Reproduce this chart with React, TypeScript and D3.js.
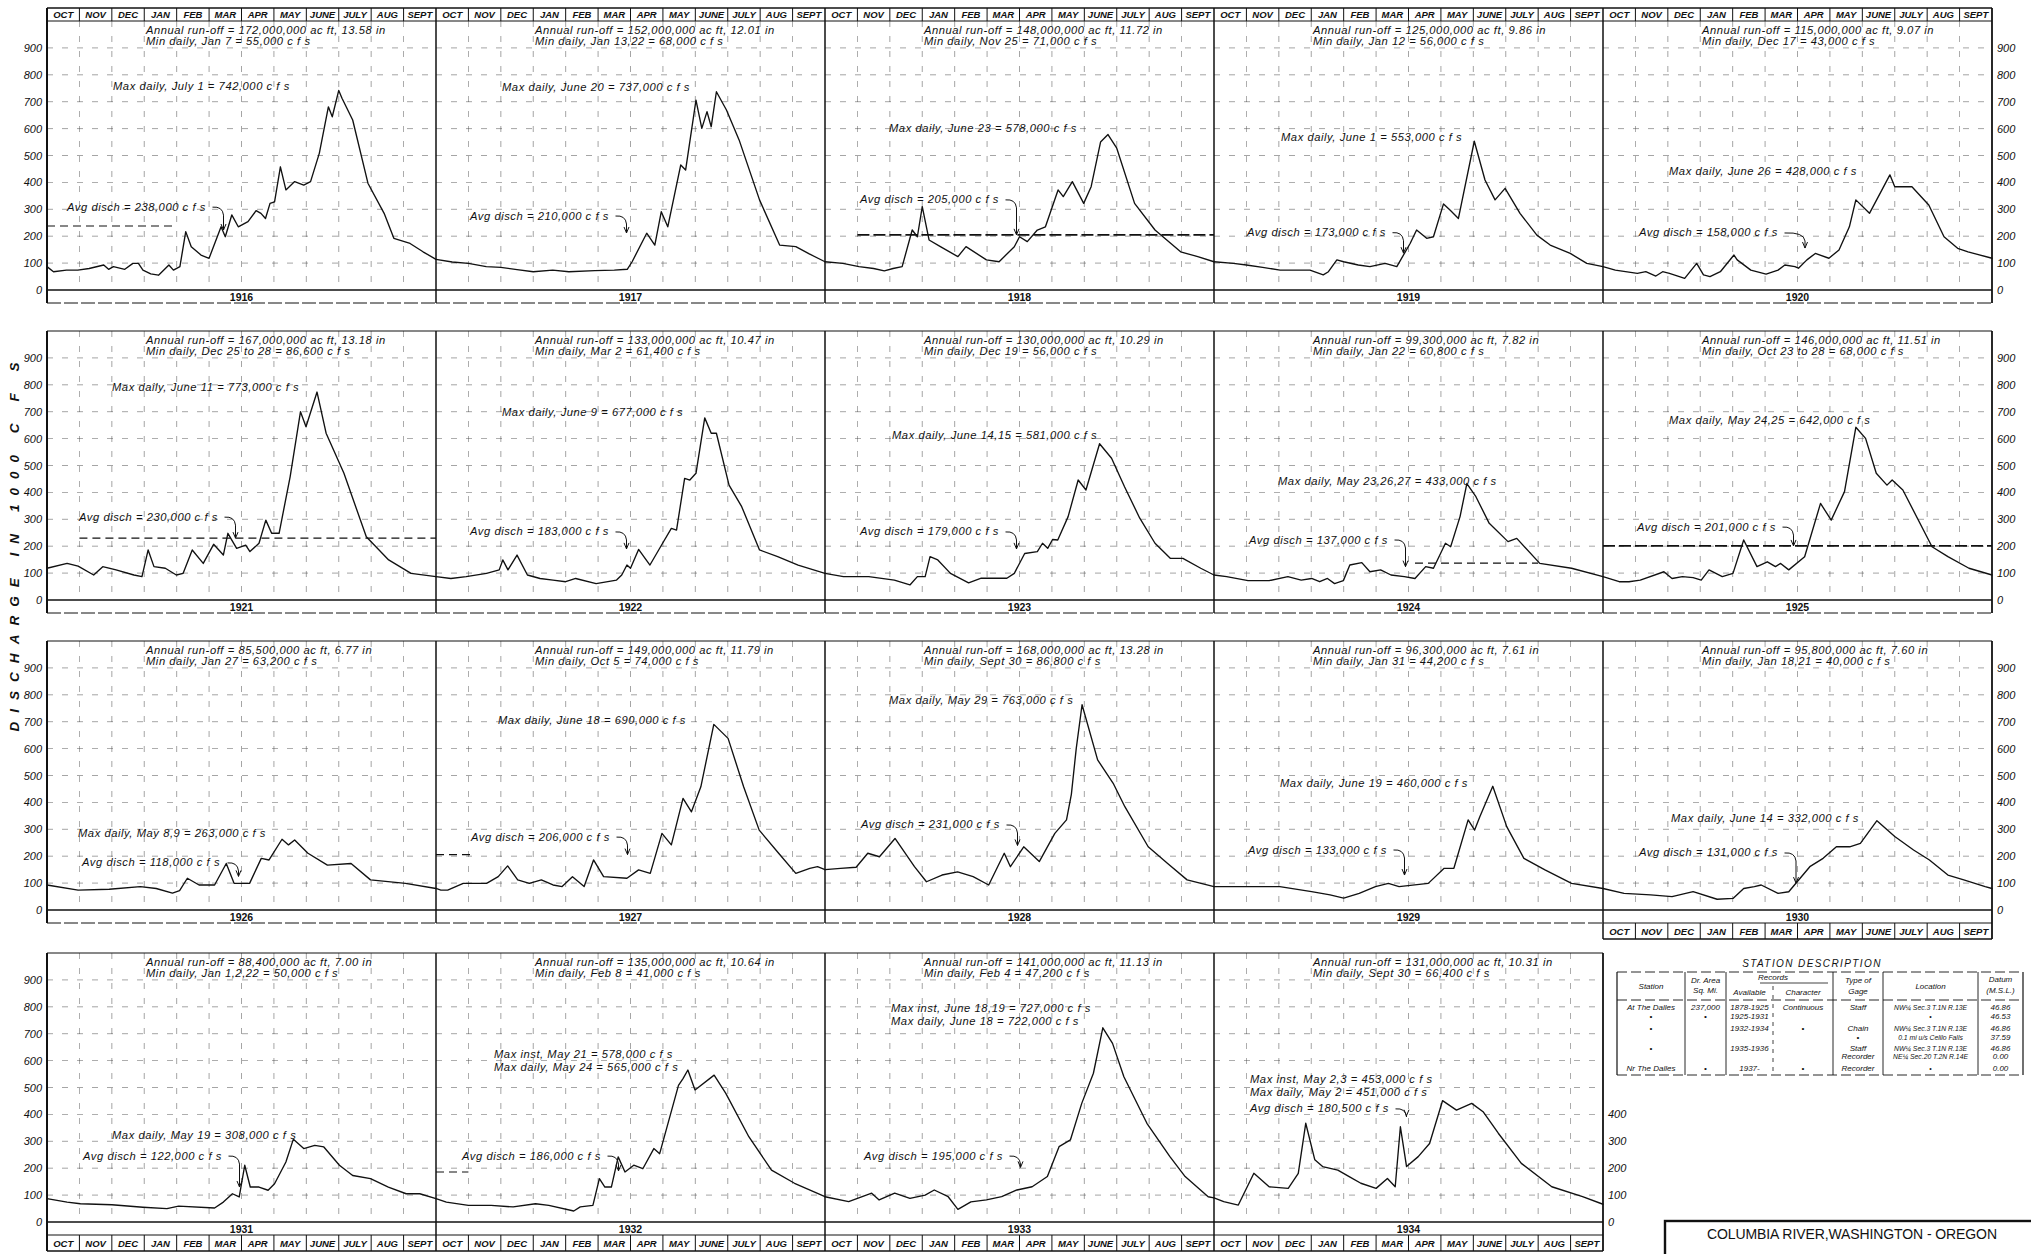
import React from "react";
import * as d3 from "d3";

const WIDTH = 2031;
const HEIGHT = 1254;

// ---- data -----------------------------------------------------------------

const years = [1916, 1917, 1918, 1919, 1920, 1921, 1922, 1923, 1924, 1925,
  1926, 1927, 1928, 1929, 1930, 1931, 1932, 1933, 1934];

const monthNames = ["OCT", "NOV", "DEC", "JAN", "FEB", "MAR", "APR", "MAY",
  "JUNE", "JULY", "AUG", "SEPT"];

const axisTicks = [0, 100, 200, 300, 400, 500, 600, 700, 800, 900];
const shortTicks = [0, 100, 200, 300, 400];

// Daily discharge, water year Oct 1 - Sept 30: [months since Oct 1, 1000 cfs]
const q1916 = [[0, 87], [0.2, 68], [0.6, 74], [0.95, 74], [1.3, 80], [1.75, 93], [1.9, 77], [2.05, 87], [2.4, 77], [2.65, 99], [2.82, 99], [2.96, 74], [3.2, 60], [3.44, 55], [3.76, 93], [3.9, 74], [4.1, 87], [4.28, 217], [4.45, 161], [4.75, 130], [5.0, 118], [5.37, 235], [5.5, 198], [5.7, 279], [5.9, 235], [6.2, 254], [6.45, 295], [6.6, 285], [6.74, 266], [6.88, 322], [7.02, 328], [7.2, 458], [7.37, 372], [7.64, 403], [7.92, 390], [8.13, 403], [8.4, 508], [8.68, 681], [8.8, 644], [9.0, 742], [9.1, 713], [9.43, 632], [9.9, 397], [10.4, 285], [10.7, 192], [11.2, 173], [11.6, 142], [12, 114]];
const q1917 = [[0, 114], [0.5, 104], [1.0, 99], [1.55, 87], [2.0, 84], [2.5, 76], [3.0, 68], [3.6, 74], [4.1, 68], [4.9, 72], [5.5, 74], [5.9, 77], [6.05, 105], [6.5, 211], [6.75, 167], [6.95, 291], [7.15, 235], [7.55, 465], [7.7, 446], [8.02, 706], [8.2, 601], [8.36, 663], [8.49, 607], [8.65, 737], [8.96, 669], [9.35, 558], [9.98, 335], [10.6, 167], [11.1, 161], [11.5, 135], [12, 105]];
const q1918 = [[0, 105], [0.55, 99], [1.05, 87], [1.5, 80], [1.83, 71], [2.1, 80], [2.38, 87], [2.69, 223], [2.85, 198], [3.0, 310], [3.21, 186], [3.56, 161], [4.1, 124], [4.35, 161], [4.98, 112], [5.37, 105], [5.84, 161], [6.0, 198], [6.24, 180], [6.55, 223], [6.8, 235], [7.19, 372], [7.35, 347], [7.63, 403], [7.98, 322], [8.21, 384], [8.5, 550], [8.73, 578], [9.0, 527], [9.55, 322], [10.18, 223], [10.97, 142], [11.5, 124], [12, 105]];
const q1919 = [[0, 105], [0.6, 99], [1.0, 93], [1.5, 84], [2.04, 74], [2.96, 74], [3.37, 56], [3.53, 68], [3.79, 112], [4.0, 105], [4.45, 93], [4.81, 87], [5.28, 99], [5.64, 87], [6.05, 173], [6.25, 223], [6.56, 192], [6.77, 198], [7.08, 320], [7.28, 297], [7.54, 266], [8.03, 553], [8.36, 409], [8.67, 335], [8.98, 378], [9.44, 285], [9.96, 204], [10.37, 167], [10.99, 136], [11.5, 99], [12, 87]];
const q1920 = [[0, 87], [0.38, 74], [1.06, 62], [1.32, 68], [1.63, 52], [1.84, 68], [2.05, 62], [2.52, 43], [2.89, 99], [3.1, 56], [3.3, 50], [3.62, 68], [4.04, 130], [4.14, 112], [4.56, 74], [5.03, 59], [5.4, 74], [5.61, 93], [5.92, 87], [6.03, 81], [6.29, 112], [6.55, 136], [6.97, 118], [7.28, 149], [7.6, 235], [7.8, 335], [8.22, 285], [8.85, 428], [9.0, 384], [9.53, 384], [10.05, 316], [10.52, 198], [10.94, 155], [11.26, 142], [12, 118]];
const q1921 = [[0, 118], [0.62, 136], [0.96, 126], [1.44, 93], [1.72, 124], [2.13, 112], [2.68, 93], [2.93, 87], [3.12, 186], [3.3, 124], [3.65, 118], [3.99, 93], [4.2, 99], [4.48, 186], [4.82, 136], [5.14, 207], [5.44, 167], [5.58, 248], [5.85, 192], [6.13, 204], [6.26, 180], [6.54, 211], [6.75, 297], [6.93, 248], [7.16, 248], [7.5, 458], [7.82, 700], [7.99, 644], [8.33, 773], [8.61, 620], [9.16, 471], [9.85, 235], [10.54, 149], [11.23, 99], [12, 87]];
const q1922 = [[0, 87], [0.46, 80], [0.93, 87], [1.56, 99], [1.95, 112], [2.06, 149], [2.22, 112], [2.5, 167], [2.82, 93], [3.21, 80], [3.61, 74], [4.0, 68], [4.31, 80], [4.94, 61], [5.57, 74], [5.73, 93], [5.89, 130], [6.0, 118], [6.25, 188], [6.6, 130], [6.99, 211], [7.26, 266], [7.42, 260], [7.67, 452], [7.83, 446], [8.02, 471], [8.29, 677], [8.49, 620], [8.65, 620], [9.04, 427], [9.43, 347], [9.98, 186], [10.54, 161], [11.17, 130], [12, 99]];
const q1923 = [[0, 99], [0.57, 87], [1.35, 87], [2.14, 74], [2.62, 56], [2.85, 87], [3.09, 87], [3.24, 161], [3.48, 149], [3.87, 99], [4.43, 64], [4.82, 81], [5.61, 81], [5.84, 99], [6.16, 173], [6.55, 180], [6.71, 211], [6.87, 192], [7.02, 225], [7.18, 223], [7.5, 310], [7.81, 446], [8.05, 409], [8.47, 581], [8.84, 527], [9.24, 421], [9.71, 304], [10.18, 211], [10.65, 155], [11.04, 155], [11.59, 118], [12, 93]];
const q1924 = [[0, 93], [0.39, 87], [1.05, 72], [1.7, 72], [2.28, 87], [2.69, 74], [3.01, 80], [3.26, 68], [3.5, 80], [3.72, 61], [3.99, 72], [4.19, 130], [4.56, 139], [4.81, 105], [5.14, 112], [5.46, 93], [5.87, 87], [6.2, 80], [6.53, 124], [6.77, 118], [7.14, 211], [7.3, 198], [7.59, 310], [7.8, 433], [8.08, 384], [8.49, 285], [9.07, 217], [9.34, 229], [10.05, 136], [11.03, 118], [12, 87]];
const q1925 = [[0, 87], [0.5, 68], [0.8, 68], [1.15, 74], [1.88, 105], [2.13, 80], [2.45, 87], [2.78, 83], [3.03, 74], [3.27, 112], [3.68, 87], [4.01, 99], [4.34, 223], [4.75, 124], [5.07, 142], [5.32, 124], [5.48, 136], [5.73, 112], [6.22, 161], [6.71, 359], [7.04, 297], [7.45, 403], [7.8, 642], [8.1, 601], [8.43, 471], [8.76, 427], [8.92, 446], [9.25, 409], [10.15, 198], [10.64, 161], [11.29, 118], [12, 93]];
const q1926 = [[0, 93], [0.96, 74], [1.92, 77], [2.88, 87], [3.37, 80], [3.87, 63], [4.09, 72], [4.33, 118], [4.69, 93], [5.17, 93], [5.53, 173], [5.77, 99], [6.25, 99], [6.61, 192], [6.85, 186], [7.25, 263], [7.45, 242], [7.64, 260], [8.05, 211], [8.65, 167], [9.38, 173], [9.98, 112], [11.06, 99], [12, 80]];
const q1927 = [[0, 80], [0.15, 74], [0.36, 74], [0.84, 99], [1.56, 99], [1.92, 124], [2.21, 164], [2.52, 112], [2.88, 99], [3.25, 112], [3.61, 93], [3.89, 87], [4.21, 124], [4.57, 87], [4.86, 186], [5.17, 124], [5.89, 118], [6.25, 149], [6.61, 136], [6.97, 285], [7.26, 242], [7.62, 415], [7.88, 365], [8.17, 458], [8.57, 690], [9.01, 638], [9.49, 458], [9.97, 297], [10.57, 211], [11.1, 136], [11.53, 155], [11.77, 161], [12, 150]];
const q1928 = [[0, 150], [0.48, 155], [0.96, 159], [1.32, 211], [1.68, 198], [2.16, 266], [2.76, 161], [3.13, 105], [3.61, 130], [4.09, 142], [4.57, 124], [5.05, 93], [5.53, 211], [5.72, 161], [6.13, 235], [6.61, 180], [7.09, 285], [7.45, 335], [7.6, 430], [7.75, 600], [7.93, 763], [8.41, 558], [8.89, 471], [9.25, 384], [9.97, 235], [10.57, 173], [11.17, 112], [12, 87]];
const q1929 = [[0, 87], [1.05, 87], [2.03, 87], [3.01, 68], [3.58, 56], [4.0, 44], [4.48, 62], [4.98, 87], [5.38, 99], [5.71, 87], [6.61, 99], [7.1, 155], [7.4, 155], [7.84, 335], [8.04, 297], [8.2, 347], [8.6, 460], [9.03, 310], [9.56, 192], [10.21, 149], [11.03, 99], [12, 80]];
const q1930 = [[0, 80], [0.65, 62], [1.47, 56], [2.13, 50], [2.78, 68], [3.52, 40], [4.01, 43], [4.34, 80], [4.67, 87], [4.88, 93], [5.4, 62], [5.73, 68], [6.38, 161], [6.79, 192], [7.2, 235], [7.61, 235], [7.94, 248], [8.45, 332], [9.0, 273], [9.58, 223], [10.07, 186], [10.64, 130], [11.13, 112], [11.79, 87], [12, 80]];
const q1931 = [[0, 87], [0.62, 74], [1.03, 68], [2.0, 64], [2.96, 55], [3.7, 50], [4.06, 59], [5.17, 52], [5.44, 74], [5.72, 105], [5.93, 93], [6.1, 211], [6.27, 130], [6.54, 130], [6.82, 118], [7.02, 142], [7.37, 223], [7.6, 308], [7.92, 273], [8.26, 285], [8.54, 279], [9.02, 211], [9.43, 173], [9.98, 161], [10.53, 130], [11.08, 105], [11.5, 105], [12, 87]];
const q1932 = [[0, 87], [0.32, 74], [1.0, 62], [1.7, 62], [2.38, 56], [3.07, 68], [3.48, 62], [4.25, 41], [4.45, 56], [4.84, 62], [5.04, 161], [5.21, 130], [5.41, 130], [5.62, 242], [5.83, 186], [6.1, 211], [6.38, 198], [6.72, 273], [6.9, 254], [7.48, 508], [7.62, 533], [7.77, 565], [7.99, 491], [8.58, 546], [8.94, 478], [9.65, 317], [10.35, 193], [11.06, 144], [12, 94]];
const q1933 = [[0, 94], [0.73, 76], [1.44, 107], [1.67, 82], [2.15, 107], [2.62, 88], [3.09, 100], [3.37, 119], [3.8, 94], [4.1, 47], [4.5, 75], [4.98, 82], [5.45, 94], [5.92, 119], [6.39, 131], [6.86, 169], [7.22, 280], [7.57, 305], [7.92, 441], [8.28, 553], [8.57, 722], [8.87, 664], [9.22, 540], [9.93, 367], [10.64, 243], [11.11, 169], [11.82, 94], [12, 90]];
const q1934 = [[0, 90], [0.3, 76], [0.75, 63], [1.23, 181], [1.7, 131], [2.29, 125], [2.6, 181], [2.83, 367], [3.11, 231], [3.35, 206], [3.82, 193], [4.17, 169], [4.53, 144], [5.0, 125], [5.35, 162], [5.59, 131], [5.75, 354], [5.94, 206], [6.3, 243], [6.65, 292], [7.05, 451], [7.48, 416], [7.95, 441], [8.3, 410], [8.77, 330], [9.48, 218], [10.42, 131], [11.37, 94], [12, 66]];

const flows = [q1916, q1917, q1918, q1919, q1920, q1921, q1922, q1923, q1924,
  q1925, q1926, q1927, q1928, q1929, q1930, q1931, q1932, q1933, q1934];

// Mean discharge for the year, 1000 cfs
const avgFlow = [238, 210, 205, 173, 158, 230, 183, 179, 137, 201, 118, 206,
  231, 133, 131, 122, 186, 195, 180.5];

const maxDate = ["July 1", "June 20", "June 23", "June 1", "June 26", "June 11",
  "June 9", "June 14,15", "May 23,26,27", "May 24,25", "May 8,9", "June 18",
  "May 29", "June 19", "June 14", "May 19", "May 24", "June 18", "May 2"];

const maxInst = [null, null, null, null, null, null, null, null, null, null,
  null, null, null, null, null, null, "May 21 = 578,000", "June 18,19 = 727,000",
  "May 2,3 = 453,000"];

const runoffText = [
  "Annual run-off = 172,000,000 ac ft, 13.58 in",
  "Annual run-off = 152,000,000 ac ft, 12.01 in",
  "Annual run-off = 148,000,000 ac ft, 11.72 in",
  "Annual run-off = 125,000,000 ac ft, 9.86 in",
  "Annual run-off = 115,000,000 ac ft, 9.07 in",
  "Annual run-off = 167,000,000 ac ft, 13.18 in",
  "Annual run-off = 133,000,000 ac ft, 10.47 in",
  "Annual run-off = 130,000,000 ac ft, 10.29 in",
  "Annual run-off = 99,300,000 ac ft, 7.82 in",
  "Annual run-off = 146,000,000 ac ft, 11.51 in",
  "Annual run-off = 85,500,000 ac ft, 6.77 in",
  "Annual run-off = 149,000,000 ac ft, 11.79 in",
  "Annual run-off = 168,000,000 ac ft, 13.28 in",
  "Annual run-off = 96,300,000 ac ft, 7.61 in",
  "Annual run-off = 95,800,000 ac ft, 7.60 in",
  "Annual run-off = 88,400,000 ac ft, 7.00 in",
  "Annual run-off = 135,000,000 ac ft, 10.64 in",
  "Annual run-off = 141,000,000 ac ft, 11.13 in",
  "Annual run-off = 131,000,000 ac ft, 10.31 in",
];

const minText = [
  "Min daily, Jan 7 = 55,000 c f s",
  "Min daily, Jan 13,22 = 68,000 c f s",
  "Min daily, Nov 25 = 71,000 c f s",
  "Min daily, Jan 12 = 56,000 c f s",
  "Min daily, Dec 17 = 43,000 c f s",
  "Min daily, Dec 25 to 28 = 86,600 c f s",
  "Min daily, Mar 2 = 61,400 c f s",
  "Min daily, Dec 19 = 56,000 c f s",
  "Min daily, Jan 22 = 60,800 c f s",
  "Min daily, Oct 23 to 28 = 68,000 c f s",
  "Min daily, Jan 27 = 63,200 c f s",
  "Min daily, Oct 5 = 74,000 c f s",
  "Min daily, Sept 30 = 86,800 c f s",
  "Min daily, Jan 31 = 44,200 c f s",
  "Min daily, Jan 18,21 = 40,000 c f s",
  "Min daily, Jan 1,2,22 = 50,000 c f s",
  "Min daily, Feb 8 = 41,000 c f s",
  "Min daily, Feb 4 = 47,200 c f s",
  "Min daily, Sept 30 = 66,400 c f s",
];

const stationHead = ["Station", "Dr. Area", "Sq. Mi.", "Records", "Available",
  "Character", "Type of", "Gage", "Location", "Datum", "(M.S.L.)"];
const stationRows = [
  ["At The Dalles", "237,000", "1878-1925", "Continuous", "Staff", "NW\u00bc Sec.3 T.1N R.13E", "46.86"],
  ["\u2022", "\u2022", "1925-1931", "", "", "\u2022", "46.53"],
  ["\u2022", "", "1932-1934", "\u2022", "Chain", "NW\u00bc Sec.3 T.1N R.13E", "46.86"],
  ["", "", "", "", "\u2022", "0.1 mi u/s Celilo Falls", "37.59"],
  ["\u2022", "", "1935-1936", "", "Staff", "NW\u00bc Sec.3 T.1N R.13E", "46.86"],
  ["", "", "", "", "Recorder", "NE\u00bc Sec.20 T.2N R.14E", "0.00"],
  ["Nr The Dalles", "\u2022", "1937-", "\u2022", "Recorder", "\u2022", "0.00"],
];

// ---- layout ---------------------------------------------------------------

const FONT = "'Liberation Sans', Arial, sans-serif";
const PANEL_W = 389;
const COL_X = [47, 436, 825, 1214, 1603];
const ROW_ZERO = [290, 600, 910, 1222];
const PLOT_H = 269; // height of 1000 (thousand cfs)
const STRIP_H = 13;
const FOOT_H = 16;
const HEAD_TOP = 8;
const CHAR_W = 5.7; // average advance of the annotation lettering

// label placement per panel: max label x-offset / y-shift, avg label x-offset,
// lift of avg label above mean (1000 cfs), hook x-offset and hook end level
const LAYOUT = [
  { mx: 66, my: -4, ax: 20, al: 70, hx: 172, ht: 223 },
  { mx: 66, my: -4, ax: 34, al: 65, hx: 188, ht: 212 },
  { mx: 64, my: -6, ax: 35, al: 130, hx: 182, ht: 205 },
  { mx: 67, my: -4, ax: 33, al: 40, hx: 178, ht: 137 },
  { mx: 66, my: -3, ax: 36, al: 54, hx: 202, ht: 156 },
  { mx: 65, my: -5, ax: 32, al: 78, hx: 173, ht: 230 },
  { mx: 66, my: -5, ax: 34, al: 70, hx: 187, ht: 190 },
  { mx: 67, my: -8, ax: 35, al: 74, hx: 184, ht: 190 },
  { mx: 64, my: -2, ax: 35, al: 86, hx: 190, ht: 124 },
  { mx: 66, my: -7, ax: 34, al: 70, hx: 188, ht: 201 },
  { mx: 31, my: -6, ax: 35, al: 57, hx: 183, ht: 125 },
  { mx: 62, my: -4, ax: 35, al: 65, hx: 183, ht: 206 },
  { mx: 64, my: -4, ax: 36, al: 85, hx: 179, ht: 240 },
  { mx: 66, my: -3, ax: 34, al: 90, hx: 179, ht: 130 },
  { mx: 68, my: -2, ax: 36, al: 81, hx: 193, ht: 100 },
  { mx: 65, my: -4, ax: 36, al: 123, hx: 183, ht: 130 },
  { mx: 58, my: -3, ax: 26, al: 59, hx: 169, ht: 190 },
  { mx: 66, my: -6, ax: 39, al: 50, hx: 184, ht: 203 },
  { mx: 36, my: -8, ax: 36, al: 240, hx: 170, ht: 395 },
];

// extent (months) of the drawn mean-discharge line, and whether it is heavy
const AVG_SPAN = [[0, 4, false], null, [1, 12, true], null, null, [1, 12, false],
  null, null, [6.2, 10, false], [0, 12, true], null, [0, 1.2, false], null, null,
  null, null, [0, 1, false], null, null];

const fmt = d3.format(",");

const txt = { fontFamily: FONT, fontStyle: "italic", fontSize: 11.2, letterSpacing: 0.55, fill: "#111" };
const gridStyle = { stroke: "#444", strokeWidth: 0.8, strokeDasharray: "6 9", opacity: 0.6 };

function Panel({ i }) {
  const row = Math.floor(i / 5);
  const col = i % 5;
  const left = COL_X[col];
  const right = left + PANEL_W;
  const zero = ROW_ZERO[row];
  const top = zero - PLOT_H;
  const x = d3.scaleLinear().domain([0, 12]).range([left, right]);
  const y = d3.scaleLinear().domain([0, 1000]).range([zero, top]);
  const data = flows[i];
  const peak = d3.max(data, (d) => d[1]);
  const line = d3.line().x((d) => x(d[0])).y((d) => y(d[1]));
  const L = LAYOUT[i];
  const avg = avgFlow[i];
  const span = AVG_SPAN[i];
  const hasFoot = row === 3 || i === 14;
  const stripBottom = zero + STRIP_H;
  const frameBottom = hasFoot ? stripBottom + FOOT_H : stripBottom;
  const frameTop = row === 0 ? HEAD_TOP : top;

  const peakY = y(peak);
  const dailyY = peakY + L.my;
  const avgY = y(avg + L.al);
  const avgLabel = `Avg disch = ${fmt(avg * 1000)} c f s`;
  const textEnd = left + L.ax + avgLabel.length * CHAR_W;
  const hx = Math.max(left + L.hx, textEnd + 14);
  const hookEnd = y(L.ht);

  return (
    <g>
      {/* grid */}
      {axisTicks.slice(1).map((v) => (
        <line key={"h" + v} x1={left} x2={right} y1={y(v)} y2={y(v)} style={gridStyle} />
      ))}
      {d3.range(1, 12).map((m) => (
        <line key={"v" + m} x1={x(m)} x2={x(m)} y1={top} y2={zero} style={gridStyle} />
      ))}

      {/* mean discharge line */}
      {span && (
        <line x1={x(span[0])} x2={x(span[1])} y1={y(avg)} y2={y(avg)}
          stroke="#111" strokeWidth={span[2] ? 1.7 : 1.1}
          strokeDasharray={span[2] ? "12 4" : "8 5"} />
      )}

      {/* hydrograph */}
      <path d={line(data)} fill="none" stroke="#111" strokeWidth={1.35}
        strokeLinejoin="round" strokeLinecap="round" />

      {/* frame */}
      <line x1={left} x2={left} y1={frameTop} y2={frameBottom} stroke="#111" strokeWidth={col === 0 ? 2 : 1.5} />
      {(col === 4 || i === 18) && (
        <line x1={right} x2={right} y1={frameTop} y2={frameBottom} stroke="#111" strokeWidth={1.8} />
      )}
      <line x1={left} x2={right} y1={top} y2={top} stroke="#111" strokeWidth={1} />
      <line x1={left} x2={right} y1={zero} y2={zero} stroke="#111" strokeWidth={1.5} />
      <line x1={left} x2={right} y1={stripBottom} y2={stripBottom} stroke="#111"
        strokeWidth={1} strokeDasharray={hasFoot ? null : "14 3"} />
      <text x={(left + right) / 2} y={zero + 10.5} textAnchor="middle"
        style={{ fontFamily: FONT, fontWeight: "bold", fontSize: 10.5, fill: "#111" }}>{years[i]}</text>

      {/* month header / footer */}
      {row === 0 && (
        <g>
          <line x1={left} x2={right} y1={HEAD_TOP} y2={HEAD_TOP} stroke="#111" strokeWidth={1.3} />
          {monthNames.map((m, k) => (
            <g key={m}>
              {k > 0 && <line x1={x(k)} x2={x(k)} y1={HEAD_TOP} y2={top} stroke="#111" strokeWidth={1} />}
              <text x={x(k + 0.5)} y={HEAD_TOP + 10} textAnchor="middle"
                style={{ fontFamily: FONT, fontStyle: "italic", fontWeight: "bold", fontSize: 9.5, fill: "#111" }}>{m}</text>
            </g>
          ))}
        </g>
      )}
      {hasFoot && (
        <g>
          <line x1={left} x2={right} y1={frameBottom} y2={frameBottom} stroke="#111" strokeWidth={1.3} />
          {monthNames.map((m, k) => (
            <g key={m}>
              {k > 0 && <line x1={x(k)} x2={x(k)} y1={stripBottom} y2={frameBottom} stroke="#111" strokeWidth={1} />}
              <text x={x(k + 0.5)} y={stripBottom + 12} textAnchor="middle"
                style={{ fontFamily: FONT, fontStyle: "italic", fontWeight: "bold", fontSize: 9.5, fill: "#111" }}>{m}</text>
            </g>
          ))}
        </g>
      )}

      {/* annotations */}
      <text x={left + 99} y={top + 12.5} style={txt}>{runoffText[i]}</text>
      <text x={left + 99} y={top + 23.5} style={txt}>{minText[i]}</text>

      {maxInst[i] && (
        <text x={left + L.mx} y={dailyY - 13 + 3.5} style={txt}>{`Max inst, ${maxInst[i]} c f s`}</text>
      )}
      <text x={left + L.mx} y={dailyY + 3.5} style={txt}>
        {`Max daily, ${maxDate[i]} = ${fmt(peak * 1000)} c f s`}
      </text>

      <text x={left + L.ax} y={avgY + 3.5} style={txt}>{avgLabel}</text>
      <path d={`M${textEnd + 3},${avgY} Q${hx - 1},${avgY - 1} ${hx},${avgY + 8} L${hx},${hookEnd}`}
        fill="none" stroke="#111" strokeWidth={1} />
      <path d={`M${hx - 2.5},${hookEnd - 6} L${hx},${hookEnd} L${hx + 2.5},${hookEnd - 6}`}
        fill="none" stroke="#111" strokeWidth={1} />
    </g>
  );
}

function TickLabels() {
  const style = { fontFamily: FONT, fontStyle: "italic", fontSize: 11, fill: "#111" };
  const out = [];
  ROW_ZERO.forEach((zero, r) => {
    const y = d3.scaleLinear().domain([0, 1000]).range([zero, zero - PLOT_H]);
    axisTicks.forEach((v) => {
      out.push(<text key={`l${r}-${v}`} x={42} y={y(v) + 4} textAnchor="end" style={style}>{v}</text>);
      if (r < 3) {
        out.push(<text key={`r${r}-${v}`} x={1997} y={y(v) + 4} style={style}>{v}</text>);
      }
    });
    if (r === 3) {
      shortTicks.forEach((v) => {
        out.push(<text key={`s${v}`} x={1608} y={y(v) + 4} style={style}>{v}</text>);
      });
    }
  });
  return <g>{out}</g>;
}

function StationTable() {
  const cols = [1617, 1685, 1726, 1773, 1833, 1883, 1978, 2023];
  const centers = cols.slice(0, -1).map((c, k) => (c + cols[k + 1]) / 2);
  const rowY = [1009.5, 1019, 1031, 1039.5, 1051, 1058.5, 1071];
  const top = 972, headBottom = 1000, bottom = 1075;
  const s = { fontFamily: FONT, fontStyle: "italic", fontSize: 8, fill: "#111" };
  return (
    <g>
      <text x={1812} y={967} textAnchor="middle" letterSpacing={1.4}
        style={{ fontFamily: FONT, fontStyle: "italic", fontSize: 10, fill: "#111" }}>STATION DESCRIPTION</text>
      <line x1={cols[0]} x2={cols[7]} y1={top} y2={top} stroke="#111" strokeWidth={0.9} strokeDasharray="10 4" />
      <line x1={cols[0]} x2={cols[7]} y1={headBottom} y2={headBottom} stroke="#111" strokeWidth={0.9} strokeDasharray="10 4" />
      <line x1={cols[0]} x2={cols[7]} y1={bottom} y2={bottom} stroke="#111" strokeWidth={0.9} strokeDasharray="10 4" />
      {cols.map((c, k) => k !== 3 && (
        <line key={c} x1={c} x2={c} y1={top} y2={bottom} stroke="#111" strokeWidth={k === 0 || k === 7 ? 1.2 : 0.9} />
      ))}
      <line x1={cols[3]} x2={cols[3]} y1={986} y2={bottom} stroke="#111" strokeWidth={0.8} strokeDasharray="4 5" />
      <line x1={1760} x2={1828} y1={983} y2={983} stroke="#111" strokeWidth={0.8} />
      <text x={centers[0]} y={989} textAnchor="middle" style={s}>{stationHead[0]}</text>
      <text x={centers[1]} y={983} textAnchor="middle" style={s}>{stationHead[1]}</text>
      <text x={centers[1]} y={993} textAnchor="middle" style={s}>{stationHead[2]}</text>
      <text x={cols[3]} y={980} textAnchor="middle" style={s}>{stationHead[3]}</text>
      <text x={centers[2]} y={995} textAnchor="middle" style={s}>{stationHead[4]}</text>
      <text x={centers[3]} y={995} textAnchor="middle" style={s}>{stationHead[5]}</text>
      <text x={centers[4]} y={983} textAnchor="middle" style={s}>{stationHead[6]}</text>
      <text x={centers[4]} y={994} textAnchor="middle" style={s}>{stationHead[7]}</text>
      <text x={centers[5]} y={989} textAnchor="middle" style={s}>{stationHead[8]}</text>
      <text x={centers[6]} y={982} textAnchor="middle" style={s}>{stationHead[9]}</text>
      <text x={centers[6]} y={993} textAnchor="middle" style={s}>{stationHead[10]}</text>
      {stationRows.map((r, k) => r.map((cell, c) => cell && (
        <text key={`${k}-${c}`} x={centers[c]} y={rowY[k]} textAnchor="middle"
          style={{ ...s, fontSize: c === 5 ? 6.8 : 8 }}>{cell}</text>
      )))}
    </g>
  );
}

export default function App() {
  return (
    <svg width={WIDTH} height={HEIGHT} viewBox={`0 0 ${WIDTH} ${HEIGHT}`}
      style={{ position: "absolute", left: 0, top: 0, display: "block" }}>
      <rect width={WIDTH} height={HEIGHT} fill="#fff" />
      {years.map((yr, i) => <Panel key={yr} i={i} />)}
      <TickLabels />
      <text transform="translate(19,547) rotate(-90)" textAnchor="middle"
        textLength={369} lengthAdjust="spacing"
        style={{ fontFamily: FONT, fontStyle: "italic", fontWeight: "bold", fontSize: 13.5, fill: "#111" }}>
        DISCHARGE IN 1000 C F S
      </text>
      <StationTable />
      <rect x={1665} y={1221} width={420} height={60} fill="#fff" stroke="#111" strokeWidth={2.4} />
      <text x={1852} y={1239} textAnchor="middle" textLength={290} lengthAdjust="spacing"
        style={{ fontFamily: FONT, fontSize: 14, fill: "#111" }}>COLUMBIA RIVER,WASHINGTON - OREGON</text>
    </svg>
  );
}
